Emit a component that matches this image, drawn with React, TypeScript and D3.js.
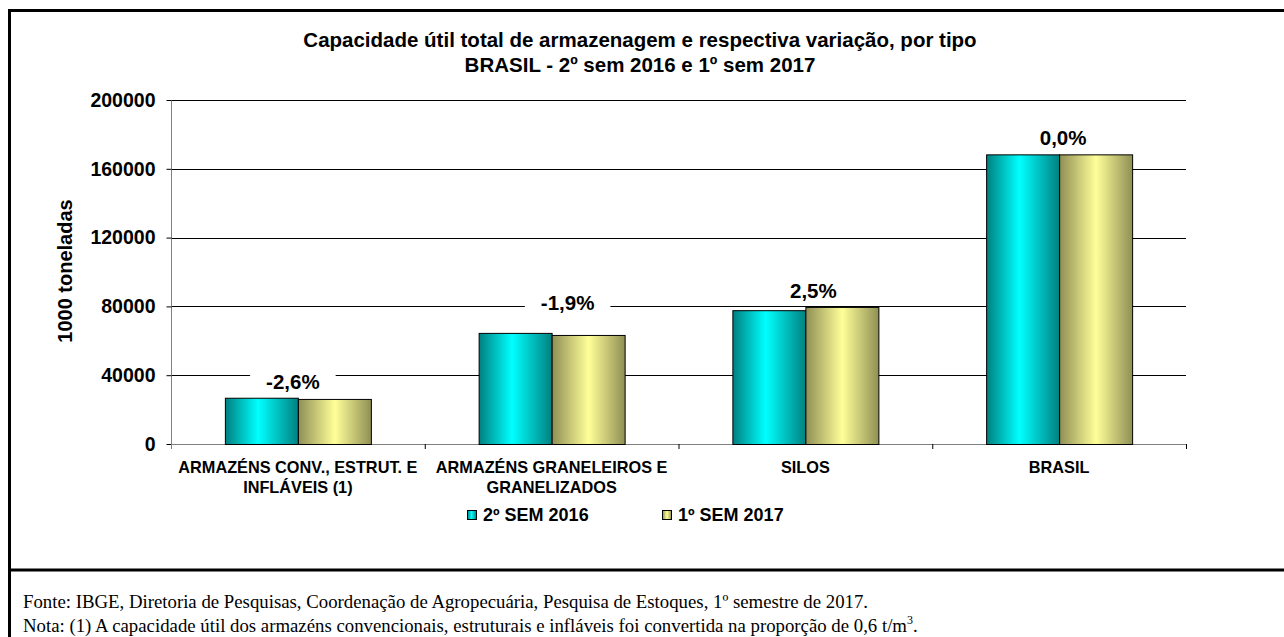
import React, { useEffect, useRef } from 'react';
import * as d3 from 'd3';

// categories (each entry is the wrapped lines of the axis label)
const categories = ['CONV', 'GRAN', 'SILOS', 'BRASIL'];
const categoryLines = [
  ['ARMAZÉNS CONV., ESTRUT. E', 'INFLÁVEIS (1)'],
  ['ARMAZÉNS GRANELEIROS E', 'GRANELIZADOS'],
  ['SILOS'],
  ['BRASIL'],
];
const seriesNames = ['2º SEM 2016', '1º SEM 2017'];
const sem2016 = [26900, 64600, 77800, 168400];
const sem2017 = [26200, 63400, 79700, 168400];
const variation = ['-2,6%', '-1,9%', '2,5%', '0,0%'];
const yTicks = [0, 40000, 80000, 120000, 160000, 200000];

// manual nudges of the variation labels (as placed in the original)
const labelNudge = [
  { dx: -5, dy: 0 },
  { dx: 16, dy: -14 },
  { dx: 8, dy: 0 },
  { dx: 4, dy: 0 },
];

const W = 1284;
const H = 637;
const SANS = "'Liberation Sans', Arial, sans-serif";
const SERIF = "'Liberation Serif', 'Times New Roman', serif";

export default function App() {
  const ref = useRef<SVGSVGElement>(null);

  useEffect(() => {
    document.body.style.margin = '0';
    const svg = d3.select(ref.current);
    svg.selectAll('*').remove();

    const defs = svg.append('defs');
    const grad = (id: string, edge: string, mid: string, at: string) => {
      const g = defs.append('linearGradient').attr('id', id).attr('x1', '0').attr('x2', '1').attr('y1', '0').attr('y2', '0');
      g.append('stop').attr('offset', '0%').attr('stop-color', edge);
      g.append('stop').attr('offset', at).attr('stop-color', mid);
      g.append('stop').attr('offset', '100%').attr('stop-color', edge);
    };
    grad('gCyan', '#008080', '#00ffff', '45%');
    grad('gYellow', '#8f8f55', '#ffff99', '50%');
    const fills = ['url(#gCyan)', 'url(#gYellow)'];

    // frame
    svg.append('rect').attr('x', 9.5).attr('y', 10.5).attr('width', 1300).attr('height', 700)
      .attr('fill', 'white').attr('stroke', 'black').attr('stroke-width', 3);
    svg.append('line').attr('x1', 9).attr('x2', W).attr('y1', 570).attr('y2', 570)
      .attr('stroke', 'black').attr('stroke-width', 3);

    const m = { left: 171, right: 1186, top: 100, bottom: 444 };
    const x = d3.scaleBand().domain(categories).range([m.left, m.right]).paddingInner(0).paddingOuter(0);
    const y = d3.scaleLinear().domain([0, 200000]).range([m.bottom, m.top]);
    const barW = 73;
    const x1 = d3.scaleBand().domain(['0', '1']).range([-barW, barW]);

    // title
    const title = svg.append('text').attr('text-anchor', 'middle').attr('font-family', SANS)
      .attr('font-weight', 'bold').attr('font-size', 20.5);
    title.append('tspan').attr('x', 640).attr('y', 47).text('Capacidade útil total de armazenagem e respectiva variação, por tipo');
    title.append('tspan').attr('x', 640).attr('y', 72).text('BRASIL - 2º sem 2016 e 1º sem 2017');

    // gridlines
    svg.append('g').selectAll('line').data(yTicks.filter(d => d > 0)).join('line')
      .attr('x1', m.left).attr('x2', m.right)
      .attr('y1', d => Math.round(y(d)) + 0.5).attr('y2', d => Math.round(y(d)) + 0.5)
      .attr('stroke', 'black').attr('stroke-width', 1);

    // y axis
    const yAxis = svg.append('g').attr('transform', `translate(${m.left + 0.5},0)`)
      .call(d3.axisLeft(y).tickValues(yTicks).tickSize(5).tickPadding(11).tickFormat(d3.format('d')));
    yAxis.select('.domain').attr('stroke', '#808080').attr('d', `M0,${m.top}V${m.bottom + 5}`);
    yAxis.selectAll('.tick line').attr('stroke', 'black');
    yAxis.selectAll('.tick text').attr('font-family', SANS).attr('font-weight', 'bold').attr('font-size', 19.5).attr('fill', 'black');

    // x axis
    const xa = svg.append('g');
    xa.append('line').attr('x1', m.left).attr('x2', m.right).attr('y1', m.bottom + 0.5).attr('y2', m.bottom + 0.5)
      .attr('stroke', '#808080');
    xa.selectAll('.xt').data(categories).join('line').attr('class', 'xt')
      .attr('x1', d => (x(d) as number) + x.bandwidth() + 0.5).attr('x2', d => (x(d) as number) + x.bandwidth() + 0.5)
      .attr('y1', m.bottom).attr('y2', m.bottom + 5).attr('stroke', 'black');
    xa.selectAll('.xl').data(categories).join('text').attr('class', 'xl')
      .attr('text-anchor', 'middle').attr('font-family', SANS).attr('font-weight', 'bold').attr('font-size', 16.3)
      .each(function (d, i) {
        const t = d3.select(this);
        const cx = (x(d) as number) + x.bandwidth() / 2;
        categoryLines[i].forEach((ln, k) => {
          t.append('tspan').attr('x', cx).attr('y', 473 + k * 20).text(ln);
        });
      });

    // bars
    const series = [sem2016, sem2017];
    const bars = svg.append('g');
    categories.forEach((c, i) => {
      const cx = (x(c) as number) + x.bandwidth() / 2;
      series.forEach((s, k) => {
        bars.append('rect')
          .attr('x', cx + (x1(String(k)) as number) + 0.5)
          .attr('y', y(s[i]) + 0.5)
          .attr('width', x1.bandwidth())
          .attr('height', y(0) - y(s[i]))
          .attr('fill', fills[k]).attr('stroke', 'black').attr('stroke-width', 1);
      });
    });

    // variation labels with white background
    const lab = svg.append('g');
    categories.forEach((c, i) => {
      const cx = (x(c) as number) + x.bandwidth() / 2 + labelNudge[i].dx;
      const top = y(Math.max(sem2016[i], sem2017[i]));
      const by = top - 9 + labelNudge[i].dy;
      const g = lab.append('g');
      const r = g.append('rect').attr('fill', 'white');
      const t = g.append('text').attr('x', cx).attr('y', by).attr('text-anchor', 'middle')
        .attr('font-family', SANS).attr('font-weight', 'bold').attr('font-size', 20.5).text(variation[i]);
      const bb = (t.node() as SVGTextElement).getBBox();
      r.attr('x', bb.x - 16).attr('y', bb.y).attr('width', bb.width + 32).attr('height', bb.height);
    });

    // y axis title
    svg.append('text').attr('transform', 'translate(72,271) rotate(-90)').attr('text-anchor', 'middle')
      .attr('font-family', SANS).attr('font-weight', 'bold').attr('font-size', 20).text('1000 toneladas');

    // legend
    const leg = svg.append('g');
    const legX = [467, 662];
    seriesNames.forEach((n, k) => {
      leg.append('rect').attr('x', legX[k] + 0.5).attr('y', 510.5).attr('width', 9).attr('height', 9)
        .attr('fill', fills[k]).attr('stroke', 'black');
      leg.append('text').attr('x', legX[k] + 16).attr('y', 521).attr('font-family', SANS)
        .attr('font-weight', 'bold').attr('font-size', 18).text(n);
    });

    // footer
    const foot = svg.append('text').attr('font-family', SERIF).attr('font-size', 18.8);
    foot.append('tspan').attr('x', 23).attr('y', 608)
      .text('Fonte: IBGE, Diretoria de Pesquisas, Coordenação de Agropecuária, Pesquisa de Estoques, 1º semestre de 2017.');
    const nota = svg.append('text').attr('font-family', SERIF).attr('font-size', 18.8).attr('x', 23).attr('y', 632);
    nota.append('tspan').text('Nota: (1) A capacidade útil dos armazéns convencionais, estruturais e infláveis foi convertida na proporção de 0,6 t/m');
    nota.append('tspan').attr('font-size', 12).attr('dy', -8).text('3');
    nota.append('tspan').attr('dy', 8).text('.');
  }, []);

  return <svg ref={ref} width={W} height={H} style={{ display: 'block' }} />;
}
